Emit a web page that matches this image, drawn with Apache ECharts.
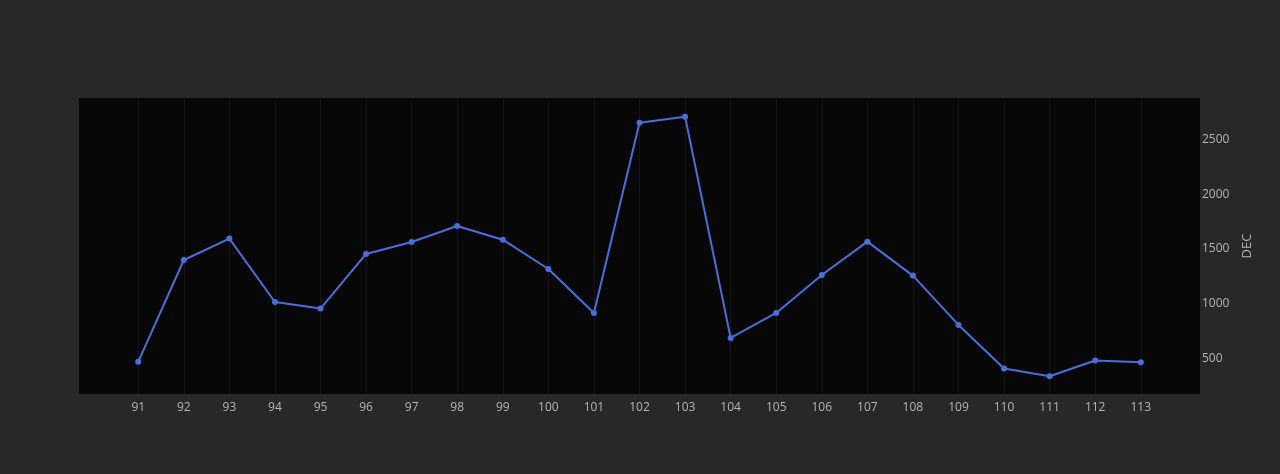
<!DOCTYPE html>
<html>
<head>
<meta charset="utf-8">
<script src="https://cdn.jsdelivr.net/npm/echarts@6/dist/echarts.min.js"></script>
<style>
html,body{margin:0;padding:0;background:#282828;}
#chart{width:1280px;height:474px;}
</style>
</head>
<body>
<div id="chart"></div>
<script>
const categories = [91,92,93,94,95,96,97,98,99,100,101,102,103,104,105,106,107,108,109,110,111,112,113];
const decValues = [473,1400,1595,1018,958,1455,1564,1709,1585,1318,918,2650,2705,691,918,1264,1567,1258,809,413,342,485,470];
const yAxisName = 'DEC';

const chart = echarts.init(document.getElementById('chart'));
const seriesData = categories.map((c, i) => [c, decValues[i]]);
const firstCat = categories[0], lastCat = categories[categories.length - 1];

chart.setOption({
  backgroundColor: '#282828',
  animation: false,
  grid: { left: 79, right: 80, top: 98, bottom: 80, show: true, backgroundColor: '#070707', borderWidth: 0 },
  xAxis: {
    type: 'value',
    min: 89.7,
    max: 114.3,
    minInterval: 1,
    maxInterval: 1,
    axisLine: { show: false },
    axisTick: { show: false },
    axisLabel: {
      color: '#b4b4b4', fontSize: 12, fontFamily: 'Open Sans, sans-serif', margin: 8,
      showMinLabel: false, showMaxLabel: false,
      formatter: v => (Number.isInteger(v) && v >= firstCat && v <= lastCat) ? String(v) : ''
    },
    splitLine: { show: false }
  },
  yAxis: {
    type: 'value',
    position: 'right',
    min: 180,
    max: 2875,
    splitNumber: 5,
    name: yAxisName,
    nameLocation: 'middle',
    nameRotate: 90,
    nameGap: 40,
    nameTextStyle: { color: '#b4b4b4', fontSize: 13, fontFamily: 'Open Sans, sans-serif' },
    axisLine: { show: false },
    axisTick: { show: false },
    axisLabel: { color: '#b4b4b4', fontSize: 12, fontFamily: 'Open Sans, sans-serif', margin: 2,
      showMinLabel: false, showMaxLabel: false, formatter: v => String(v) },
    splitLine: { show: false }
  },
  series: [{
    type: 'line',
    data: [],
    z: 1,
    silent: true,
    markLine: {
      z: 1,
      silent: true,
      symbol: ['none', 'none'],
      label: { show: false },
      lineStyle: { color: '#151515', width: 1, type: 'solid' },
      data: categories.map(c => ({ xAxis: c }))
    }
  }, {
    type: 'line',
    z: 10,
    data: seriesData,
    symbol: 'circle',
    symbolSize: 6,
    lineStyle: { color: '#4a6fdc', width: 2 },
    itemStyle: { color: '#4a6fdc' }
  }]
});
</script>
</body>
</html>
